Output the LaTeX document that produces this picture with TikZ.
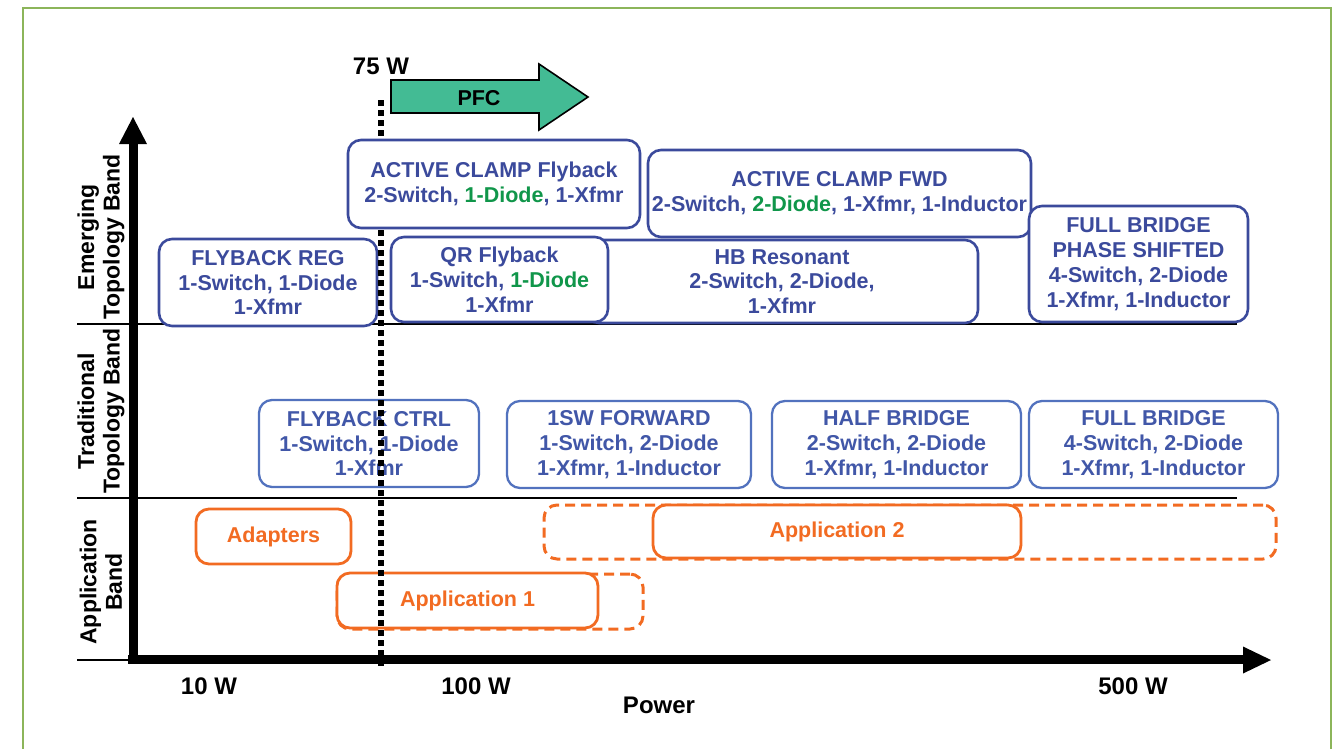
\documentclass[tikz,border=0pt]{standalone}
\usepackage{fontspec}
\setmainfont{Liberation Sans}
\definecolor{framegreen}{HTML}{8CB55A}
\definecolor{emblue}{HTML}{3B4A9C}
\definecolor{trborder}{HTML}{5272BE}
\definecolor{trtext}{HTML}{4157A8}
\definecolor{dgreen}{HTML}{10964A}
\definecolor{apporange}{HTML}{F26B22}
\definecolor{pfcteal}{HTML}{43BB94}
\newcommand\boxfont{\fontsize{21.5}{24.8}\selectfont\bfseries}
\newcommand\bandfont{\fontsize{23}{25.5}\selectfont\bfseries}
\newcommand\axfont{\fontsize{24}{26}\selectfont\bfseries}
\newcommand\gr[1]{{\color{dgreen}#1}}
\begin{document}
\begin{tikzpicture}[x=1pt,y=-1pt,
  tbox/.style={rounded corners=13pt, fill=white, line width=2.6pt, inner sep=0pt,
    align=center, font=\boxfont},
  emerg/.style={tbox, draw=emblue, text=emblue},
  trad/.style={tbox, draw=trborder, text=trtext, line width=2.3pt},
  appsolid/.style={tbox, draw=apporange, text=apporange, line width=2.8pt},
  appdashed/.style={appsolid, fill=none, dashed, dash pattern=on 10pt off 6pt, line width=3pt},
  bandline/.style={line width=1.5pt, black},
  bandlabel/.style={rotate=90, align=center, font=\bandfont, inner sep=0pt},
  axlabel/.style={font=\axfont, inner sep=0pt},
  dotline/.style={line width=6pt, dash pattern=on 5.5pt off 4.5pt},
  axisline/.style={line width=9pt}]
\useasboundingbox (0,0) rectangle (1344,748);

% outer frame
\draw[framegreen, line width=1.6pt] (23,770) -- (23,8) -- (1331,8) -- (1331,770);

% band separators
\coordinate (b1l) at (77,324); \coordinate (b1r) at (1237,324);
\coordinate (b2l) at (77,498); \coordinate (b2r) at (1237,498);
\coordinate (b3l) at (77,660); \coordinate (b3r) at (130,660);
\draw[bandline] (b1l) -- (b1r);
\draw[bandline] (b2l) -- (b2r);
\draw[bandline] (b3l) -- (b3r);

% band labels
\node[bandlabel] (lem) at (101,237) {Emerging\\Topology Band};
\node[bandlabel] (ltr) at (101,411) {Traditional\\Topology Band};
\node[bandlabel] (lap) at (101,582) {Application\\Band};

% axes
\coordinate (O) at (133,659);
\coordinate (ytip) at (133,117);
\coordinate (xtip) at (1271,660);
\draw[axisline] (133,664) -- (133,140);
\fill (119,144) -- (ytip) -- (147,144) -- cycle;
\draw[axisline] (128,659) -- (1246,659);
\fill (1243,646.5) -- (xtip) -- (1243,673.5) -- cycle;

% axis labels
\node[axlabel] (w10) at (209,686) {10 W};
\node[axlabel] (w100) at (476,686) {100 W};
\node[axlabel] (w500) at (1133,686) {500 W};
\node[axlabel] (pw) at (659,705) {Power};
\node[axlabel] (w75) at (381,66) {75 W};

% PFC arrow
\draw[fill=pfcteal, line width=1.6pt, line join=miter]
  (391,80) -- (539,80) -- (539,64) -- (588,97) -- (539,130) -- (539,113) -- (391,113) -- cycle;
\node[font=\boxfont, inner sep=0pt] (pfc) at (479,98) {PFC};

% emerging topologies
\node[emerg, minimum width=383pt, minimum height=87pt] (acfwd) at (839.5,193.5)
  {ACTIVE CLAMP FWD\\2-Switch, \gr{2-Diode}, 1-Xfmr, 1-Inductor};
\node[emerg, minimum width=392pt, minimum height=83pt] (hb) at (782,281.5)
  {HB Resonant\\2-Switch, 2-Diode,\\1-Xfmr};
\node[emerg, minimum width=217pt, minimum height=85pt] (qr) at (499.5,279.5)
  {QR Flyback\\1-Switch, \gr{1-Diode}\\1-Xfmr};
\node[emerg, minimum width=218pt, minimum height=87pt] (fbreg) at (268,282.5)
  {FLYBACK REG\\1-Switch, 1-Diode\\1-Xfmr};
\node[emerg, minimum width=219pt, minimum height=116pt] (fbps) at (1138.5,264)
  {FULL BRIDGE\\PHASE SHIFTED\\4-Switch, 2-Diode\\1-Xfmr, 1-Inductor};

% traditional topologies
\node[trad, minimum width=220pt, minimum height=87pt] (fbctrl) at (369,443.5)
  {FLYBACK CTRL\\1-Switch, 1-Diode\\1-Xfmr};
\node[trad, minimum width=244pt, minimum height=87pt] (fwd) at (629,444.5)
  {1SW FORWARD\\1-Switch, 2-Diode\\1-Xfmr, 1-Inductor};
\node[trad, minimum width=249pt, minimum height=87pt] (half) at (896.5,444.5)
  {HALF BRIDGE\\2-Switch, 2-Diode\\1-Xfmr, 1-Inductor};
\node[trad, minimum width=249pt, minimum height=87pt] (full) at (1153.5,444.5)
  {FULL BRIDGE\\4-Switch, 2-Diode\\1-Xfmr, 1-Inductor};

% applications
\node[appsolid, minimum width=155pt, minimum height=55pt] (adapt) at (273.5,536.5) {Adapters};
\node[appdashed, minimum width=732pt, minimum height=54pt] (app2ext) at (910,532) {};
\node[appsolid, minimum width=368pt, minimum height=53pt] (app2) at (837,531.5) {Application 2};
\node[appdashed, minimum width=306pt, minimum height=55pt] (app1ext) at (490,601.5) {};
\node[appsolid, minimum width=261pt, minimum height=55pt] (app1) at (467.5,600.5) {Application 1};

% 75 W boundary
\coordinate (d75top) at (381,100);
\coordinate (d75bot) at (381,668);
\draw[dotline] (d75top) -- (d75bot);

% box lying over the boundary line
\node[emerg, minimum width=292pt, minimum height=88pt] (acf) at (494,184)
  {ACTIVE CLAMP Flyback\\2-Switch, \gr{1-Diode}, 1-Xfmr};
\end{tikzpicture}
\end{document}
